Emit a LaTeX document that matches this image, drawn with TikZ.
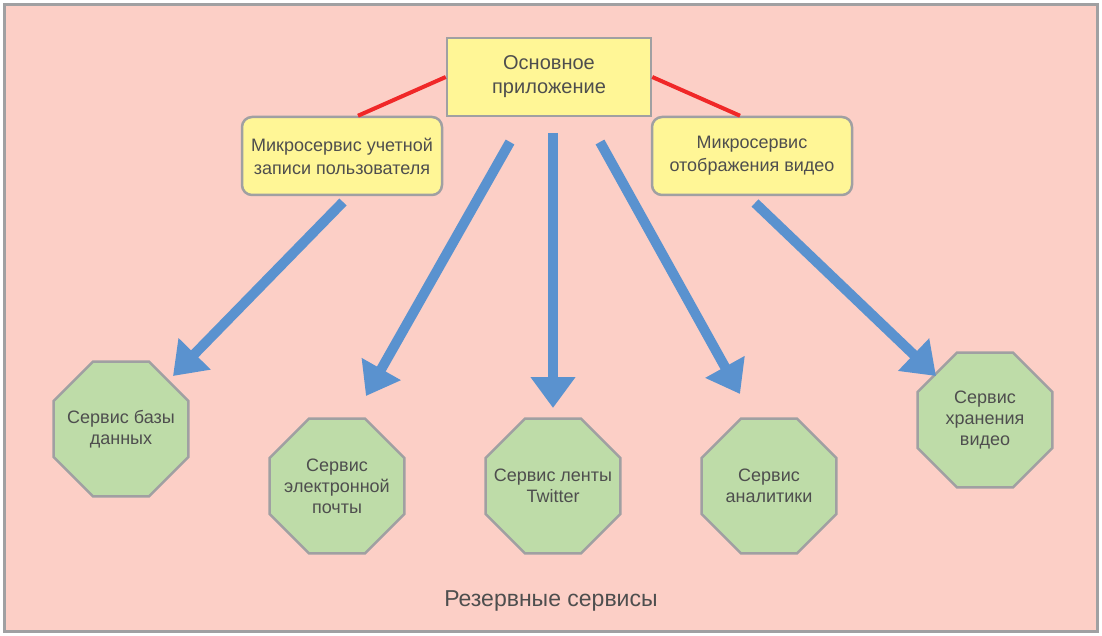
\documentclass[tikz,border=0pt]{standalone}
\usepackage{fontspec}
\setmainfont{Liberation Sans}
\usetikzlibrary{shapes.geometric,arrows.meta}
\definecolor{bgpink}{RGB}{252,207,198}
\definecolor{framegray}{RGB}{160,160,162}
\definecolor{boxyellow}{RGB}{255,246,150}
\definecolor{octgreen}{RGB}{190,220,168}
\definecolor{arrowblue}{RGB}{90,146,207}
\definecolor{linkred}{RGB}{240,40,40}
\definecolor{txt}{RGB}{78,78,78}
\tikzset{
  mainbox/.style={draw=framegray, line width=2.5pt, fill=boxyellow, minimum width=204pt, minimum height=78pt, inner sep=2pt, align=center, text=txt, font=\fontsize{20}{24}\selectfont},
  microbox/.style={draw=framegray, line width=2.5pt, fill=boxyellow, rounded corners=10pt, minimum width=200pt, minimum height=78pt, inner sep=2pt, align=center, text=txt, font=\fontsize{18}{23}\selectfont},
  octbox/.style={draw=framegray, line width=2.5pt, fill=octgreen, regular polygon, regular polygon sides=8, minimum size=146pt, inner sep=0pt},
  octtext/.style={align=center, text=txt, inner sep=0pt, font=\fontsize{18}{21}\selectfont},
  footer/.style={text=txt, font=\fontsize{23}{27}\selectfont},
  bluearrow/.style={draw=arrowblue, line width=10pt, -{Triangle[width=43pt,length=31pt]}},
  redline/.style={draw=linkred, line width=4pt}
}
\begin{document}
\begin{tikzpicture}[x=1pt,y=-1pt]
\useasboundingbox (0,0) rectangle (1102,636);
\fill[white] (0,0) rectangle (1102,636);
\draw[framegray, line width=3.5pt, fill=bgpink] (4.5,4.5) rectangle (1097.5,631.5);

\node[mainbox] (main) at (549,77) {Основное\\приложение};
\node[microbox] (acc) at (342,156) {Микросервис учетной\\записи пользователя};
\node[microbox] (vid) at (752,156) {Микросервис\\отображения видео};

\node[octbox, label={[octtext]center:Сервис базы\\данных}] (db) at (121,429) {};
\node[octbox, label={[octtext]center:Сервис\\электронной\\почты}] (mail) at (337,486) {};
\node[octbox, label={[octtext]center:Сервис ленты\\Twitter}] (tw) at (553,486) {};
\node[octbox, label={[octtext]center:Сервис\\аналитики}] (an) at (769,486) {};
\node[octbox, label={[octtext]center:Сервис\\хранения\\видео}] (vs) at (985,420) {};

\node[footer] (res) at (551,601) {Резервные сервисы};

\draw[redline] (main.west) -- ([xshift=16pt]acc.north);
\draw[redline] (main.east) -- ([xshift=-12pt]vid.north);

\coordinate (s1) at (343,202);
\coordinate (s2) at (510,142);
\coordinate (s3) at (553,133);
\coordinate (s4) at (600,142);
\coordinate (s5) at (755,203);
\coordinate (t1) at (173,376);
\coordinate (t2) at (366,396);
\coordinate (t3) at (553,408);
\coordinate (t4) at (740,394);
\coordinate (t5) at (936,376);

\draw[bluearrow] (s1) -- (t1);
\draw[bluearrow] (s2) -- (t2);
\draw[bluearrow] (s3) -- (t3);
\draw[bluearrow] (s4) -- (t4);
\draw[bluearrow] (s5) -- (t5);
\end{tikzpicture}
\end{document}
